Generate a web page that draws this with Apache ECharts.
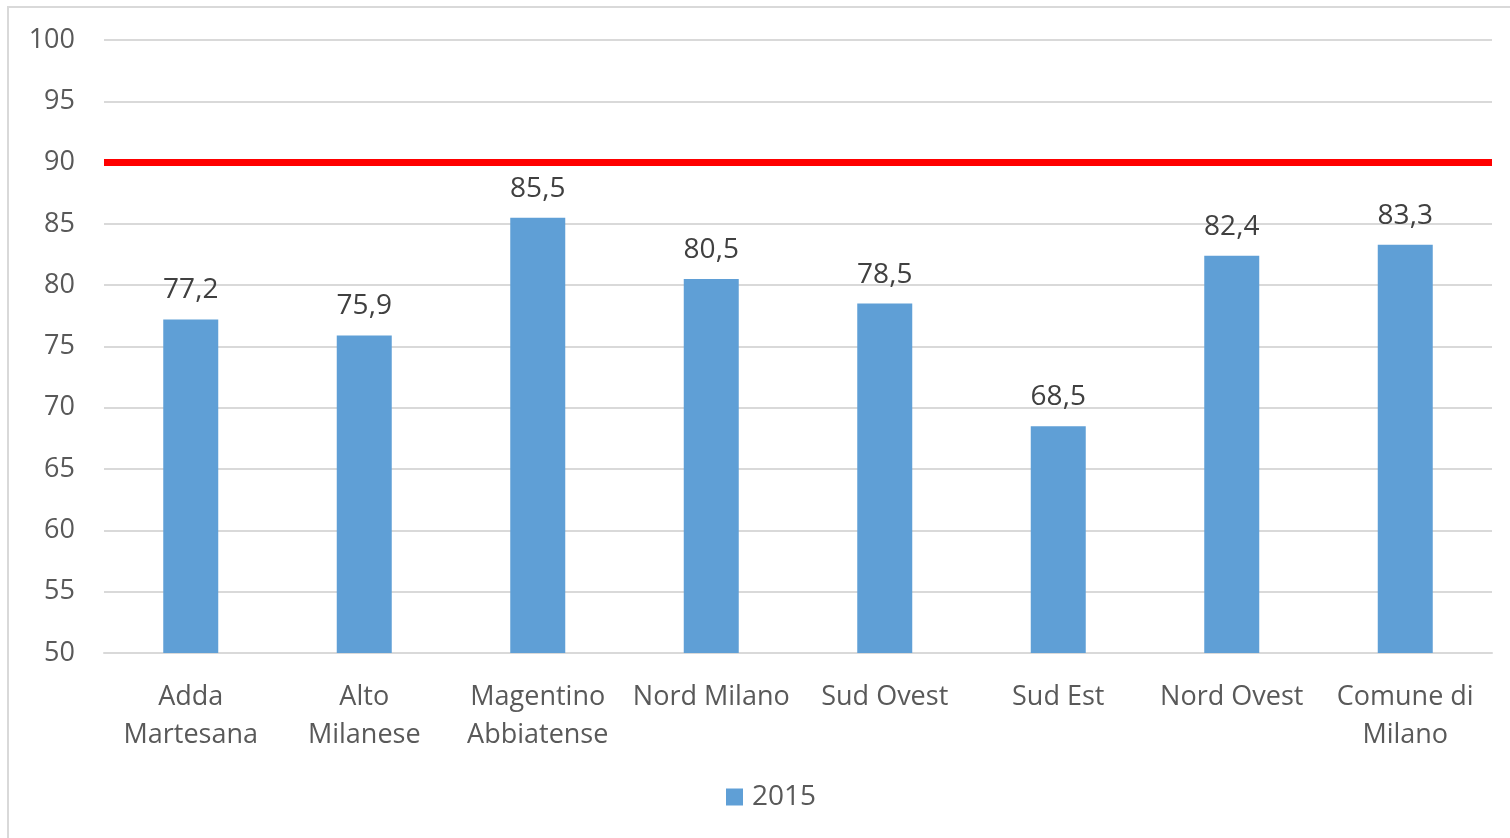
<!DOCTYPE html>
<html><head><meta charset="utf-8">
<script src="https://cdn.jsdelivr.net/npm/echarts@6/dist/echarts.min.js"></script>
<style>html,body{margin:0;padding:0;background:#fff}#c{width:1510px;height:838px}</style>
</head><body><div id="c"></div>
<script>
const categories = ['Adda\nMartesana','Alto\nMilanese','Magentino\nAbbiatense','Nord Milano','Sud Ovest','Sud Est','Nord Ovest','Comune di\nMilano'];
const values2015 = [77.2, 75.9, 85.5, 80.5, 78.5, 68.5, 82.4, 83.3];
const seriesName = '2015';
const threshold = 90;
const yTicks = {min: 50, max: 100, interval: 5};

const font = '"Open Sans", "Liberation Sans", sans-serif';
const chart = echarts.init(document.getElementById('c'), null, {renderer: 'canvas'});
chart.setOption({
  animation: false,
  backgroundColor: '#fff',
  textStyle: {fontFamily: font},
  graphic: [{
    type: 'rect', shape: {x: 8, y: 7, width: 1520, height: 850},
    style: {fill: 'none', stroke: '#d9d9d9', lineWidth: 2}, silent: true, z: -10
  }],
  grid: {left: 104, right: 18, top: 40, bottom: 185, containLabel: false},
  legend: {
    bottom: 22, left: 721, data: [seriesName],
    icon: 'rect', itemWidth: 17, itemHeight: 17, itemGap: 9,
    textStyle: {fontSize: 28, color: '#595959', fontFamily: font, padding: [0, 0, 0, 4]}
  },
  xAxis: {
    type: 'category', data: categories,
    axisLine: {show: true, lineStyle: {color: '#d9d9d9', width: 2}},
    axisTick: {show: false},
    axisLabel: {fontSize: 27, color: '#595959', margin: 25, lineHeight: 38, interval: 0, fontFamily: font}
  },
  yAxis: {
    type: 'value', min: yTicks.min, max: yTicks.max, interval: yTicks.interval,
    axisLine: {show: false}, axisTick: {show: false},
    axisLabel: {fontSize: 27, color: '#595959', margin: 29, fontFamily: font},
    splitLine: {lineStyle: {color: '#d9d9d9', width: 2}}
  },
  series: [{
    name: seriesName, type: 'bar', data: values2015, barWidth: 55,
    itemStyle: {color: '#5f9fd6'},
    label: {
      show: true, position: 'top', distance: 15, fontSize: 28, color: '#404040', fontFamily: font,
      formatter: p => p.value.toFixed(1).replace('.', ',')
    },
    markLine: {
      silent: true, symbol: 'none', label: {show: false},
      lineStyle: {color: '#ff0000', width: 7, type: 'solid'},
      data: [{yAxis: threshold}]
    }
  }]
});
</script></body></html>
